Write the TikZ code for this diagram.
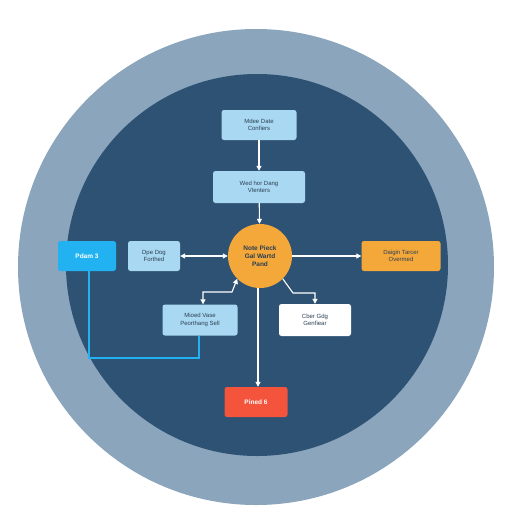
\documentclass[tikz,border=0pt]{standalone}
\usepackage{fontspec}
\setmainfont{Liberation Sans}
\usetikzlibrary{arrows.meta,calc}
\definecolor{outerc}{HTML}{8AA5BC}
\definecolor{innerc}{HTML}{2E5274}
\definecolor{lblue}{HTML}{A9D9F2}
\definecolor{bblue}{HTML}{22B2F2}
\definecolor{orng}{HTML}{F5A83A}
\definecolor{redc}{HTML}{F4533C}
\definecolor{txt}{HTML}{2A3E52}
\begin{document}
\begin{tikzpicture}[x=1pt,y=-1pt,
  box/.style={rounded corners=2.5pt,minimum width=#1,minimum height=30pt,align=center,font=\fontsize{6}{7.5}\selectfont,text=txt,inner sep=1pt},
  box/.default=75pt,
  conn/.style={draw=white,line width=1.1pt,-{Triangle[width=5pt,length=5pt]}},
  dconn/.style={draw=white,line width=1.1pt,{Triangle[width=5pt,length=5pt]}-{Triangle[width=5pt,length=5pt]}}]
\useasboundingbox (0,0) rectangle (512,512);
\fill[white] (0,0) rectangle (512,512);
\fill[outerc] (256,267) circle (238);
\fill[innerc] (257,265) circle (191);
\node[box=75pt,fill=lblue] (top) at (259,125) {Mdee Date\\Confiers};
\node[box=92pt,minimum height=32pt,fill=lblue] (sec) at (259,187) {Wed hor Dang\\Vlenters};
\node[circle,fill=orng,minimum size=64pt,align=center,font=\fontsize{6.5}{8}\selectfont\bfseries,text=txt,inner sep=0pt] (hub) at (260,256) {Note Pieck\\Gal Wartd\\Pand};
\node[box=52pt,fill=lblue] (left) at (154,256) {Dpe Dog\\Forthed};
\node[box=58pt,fill=bblue,text=white,font=\fontsize{6.5}{7.5}\selectfont\bfseries] (pdam) at (87,256) {Pdam 3};
\node[box=79pt,fill=orng] (right) at (401,256) {Daigin Tarcer\\Overmed};
\node[box=75pt,minimum height=31pt,fill=lblue] (mio) at (200,320) {Mioed Vase\\Peorthang Sell};
\node[box=72pt,minimum height=32pt,fill=white] (cber) at (315,320) {Cber Gdg\\Genfiear};
\node[box=63pt,fill=redc,text=white,font=\fontsize{6.5}{7.5}\selectfont\bfseries] (red) at (256,402) {Pined 6};
\draw[conn] (top) -- (sec);
\draw[conn] (sec) -- (hub);
\draw[dconn] (hub) -- (left);
\draw[conn] (hub) -- (right);
\draw[dconn] (hub.225) -- (232,292) -- (203,292) -- (mio.north -| 203,0);
\draw[conn] (hub.-45) -- (293,293) -- (315,293) -- (cber.north);
\draw[conn] (hub.south -| 258,0) -- (red.north -| 258,0);
\draw[draw=bblue,line width=1.2pt] (pdam.south -| 89,0) -- (89,358) -- (199,358) -- (mio.south -| 199,0);
\end{tikzpicture}
\end{document}
